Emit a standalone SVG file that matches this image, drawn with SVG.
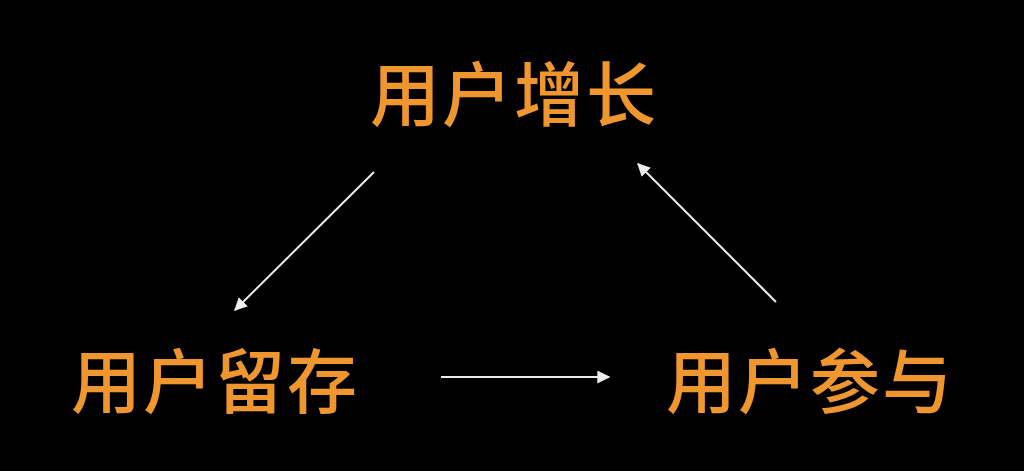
<svg xmlns="http://www.w3.org/2000/svg" width="1024" height="471" viewBox="0 0 1024 471">
<defs>
<style>
.lbl{font-family:"Noto Sans CJK SC","Noto Sans",sans-serif;font-size:70px;font-weight:500;fill:#F0962E;text-anchor:middle;dominant-baseline:central;letter-spacing:2px}
.edge{stroke:#EDEDED;stroke-width:2;fill:none;marker-end:url(#ah)}
</style>
<marker id="ah" viewBox="0 0 10 10" refX="9" refY="5" markerWidth="6.5" markerHeight="6.5" markerUnits="strokeWidth" orient="auto">
<path d="M0,0 L10,5 L0,10 z" fill="#EDEDED"/>
</marker>
</defs>
<rect width="1024" height="471" fill="#000"/>
<g id="connectors">
<line class="edge" x1="374" y1="172" x2="235" y2="310"/>
<line class="edge" x1="776" y1="302" x2="638" y2="164"/>
<line class="edge" x1="441" y1="377" x2="609" y2="377"/>
</g>
<g id="node-growth"><text class="lbl" x="514" y="90">用户增长</text></g>
<g id="node-retention"><text class="lbl" x="215" y="377">用户留存</text></g>
<g id="node-engagement"><text class="lbl" x="810" y="377">用户参与</text></g>
</svg>
